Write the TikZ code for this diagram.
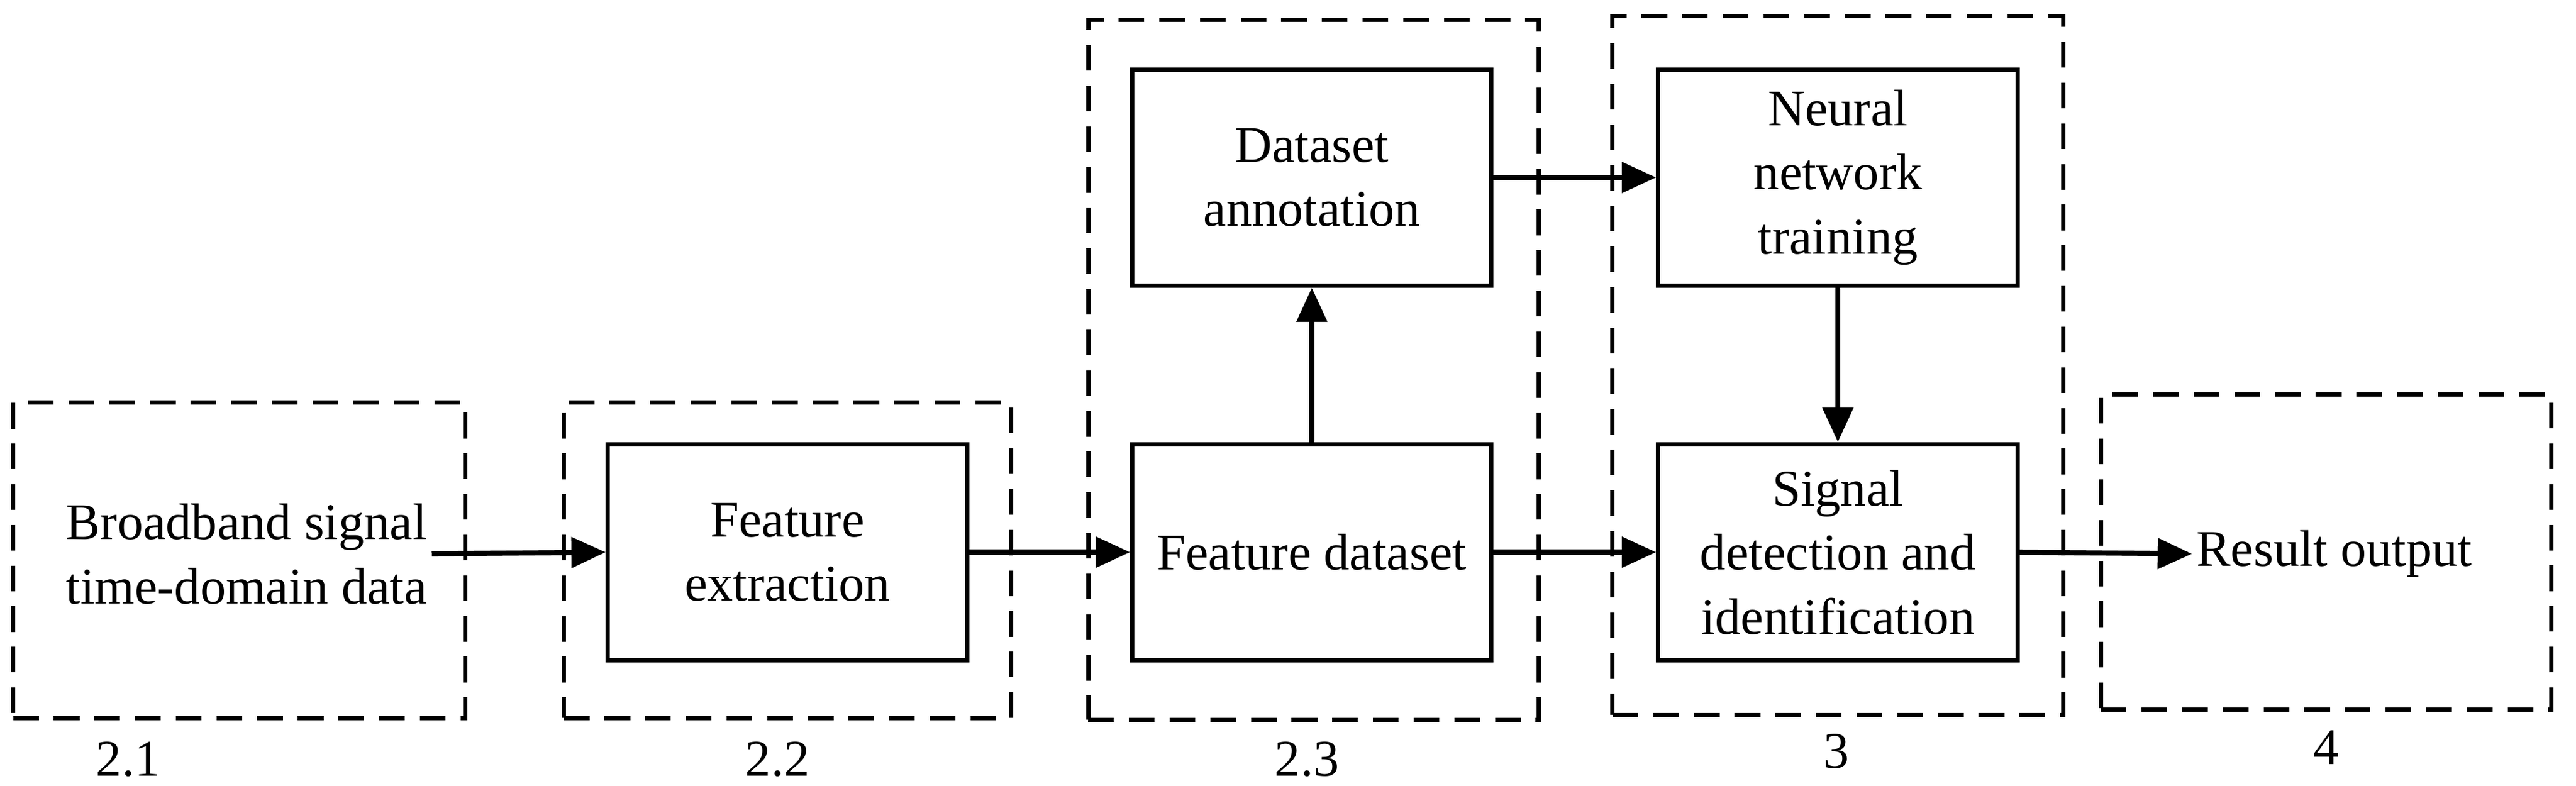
\documentclass[tikz,border=0pt]{standalone}
\usepackage{fontspec}
\setmainfont{Liberation Serif}
\usetikzlibrary{arrows.meta}
\tikzset{
  x=0.027cm, y=-0.027cm,
  txt/.style={font=\fontsize{24}{30}\selectfont, align=center, inner sep=2pt},
  dbox/.style={draw, line width=2pt, dash pattern=on 12pt off 7pt},
  sbox/.style={draw, line width=2pt, txt, minimum width=5.9cm, minimum height=3.55cm},
  lab/.style={font=\fontsize{24}{30}\selectfont},
  arr/.style={line width=2.4pt, -{Triangle[length=16pt,width=14pt]}}
}
\begin{document}
\begin{tikzpicture}
\useasboundingbox (0,0) rectangle (1567,478);
% dashed groups
\node[dbox, minimum width=7.425cm, minimum height=5.18cm] (d21) at (145.5,341) {};
\node[dbox, minimum width=7.344cm, minimum height=5.18cm] (d22) at (479,341) {};
\node[dbox, minimum width=7.398cm, minimum height=11.5cm] (d23) at (799,225) {};
\node[dbox, minimum width=7.398cm, minimum height=11.475cm] (d3) at (1118,222.5) {};
\node[dbox, minimum width=7.398cm, minimum height=5.18cm] (d4) at (1415,336) {};
% labels
\node[lab] (l21) at (78,462) {2.1};
\node[lab] (l22) at (473,462) {2.2};
\node[lab] (l23) at (795,462) {2.3};
\node[lab] (l3) at (1117,457) {3};
\node[lab] (l4) at (1415,455) {4};
% blocks
\node[txt] (bb) at (150,337) {Broadband signal\\time-domain data};
\node[sbox] (fe) at (479,336) {Feature\\extraction};
\node[sbox] (da) at (798,108) {Dataset\\annotation};
\node[sbox] (fd) at (798,336) {Feature dataset};
\node[sbox] (nn) at (1118,108) {Neural\\network\\training};
\node[sbox] (sd) at (1118,336) {Signal\\detection and\\identification};
\node[txt] (ro) at (1420,337) {Result output};
% connectors
\draw[arr] (bb.east) -- (fe.west);
\draw[arr] (fe.east) -- (fd.west);
\draw[arr] (fd.north) -- (da.south);
\draw[arr] (da.east) -- (nn.west);
\draw[arr] (fd.east) -- (sd.west);
\draw[arr] (nn.south) -- (sd.north);
\draw[arr] (sd.east) -- (ro.west);
\end{tikzpicture}
\end{document}
